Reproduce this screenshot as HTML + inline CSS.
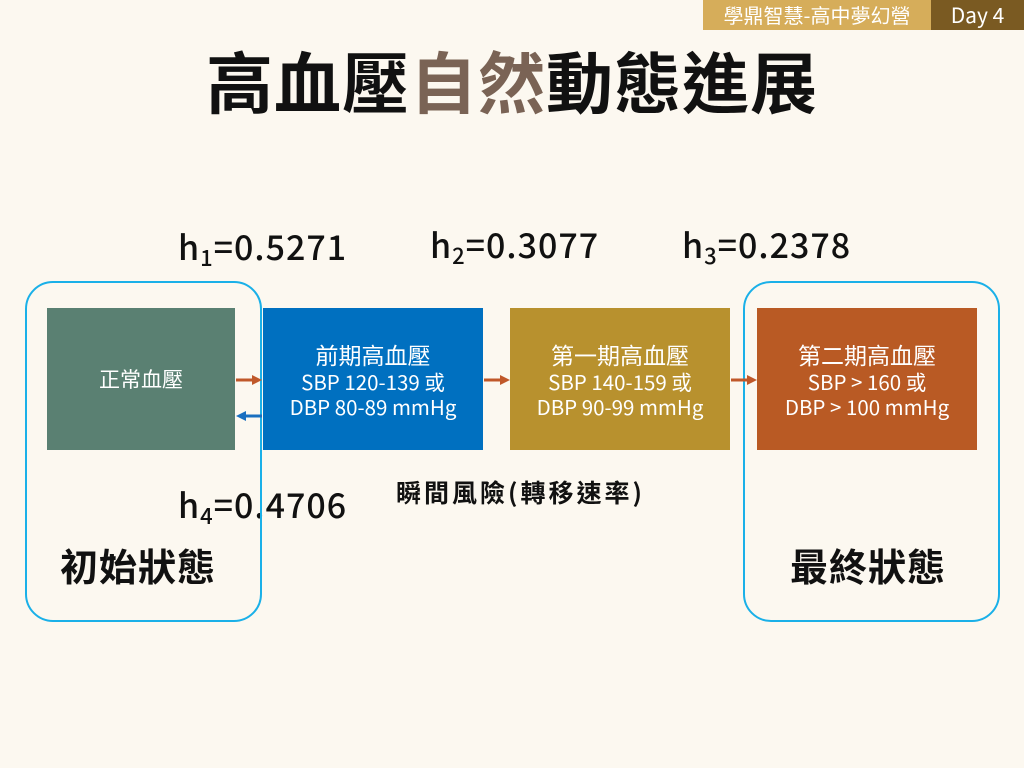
<!DOCTYPE html>
<html><head><meta charset="utf-8"><style>
body{margin:0;width:1024px;height:768px;background:#fcf8f0;position:relative;overflow:hidden;font-family:"Noto Sans CJK TC","Liberation Sans",sans-serif;}
.a{position:absolute;}
.box{position:absolute;color:#fff;text-align:center;display:flex;flex-direction:column;justify-content:center;font-size:20.5px;line-height:25px;}
.box div{font-size:23px;line-height:30px;}
.h{position:absolute;font-size:34px;color:#111;font-weight:500;line-height:40px;letter-spacing:1px;}
.h sub{font-size:22px;vertical-align:-6px;line-height:0;}
</style></head><body>
<div class="a" style="left:703px;top:0;width:228px;height:30px;background:#d6ad5a;color:#fff;font-size:20px;line-height:30px;text-align:center;">學鼎智慧-高中夢幻營</div>
<div class="a" style="left:931px;top:0;width:93px;height:30px;background:#7a5a22;color:#fff;font-size:21px;line-height:30px;text-align:center;">Day 4</div>
<div class="a" style="left:0;width:1024px;top:40px;text-align:center;font-size:67px;font-weight:bold;color:#111;line-height:80px;letter-spacing:1px;">高血壓<span style="color:#7a6355">自然</span>動態進展</div>
<div class="h" style="left:178px;top:226px;">h<sub>1</sub>=0.5271</div>
<div class="h" style="left:430px;top:224px;">h<sub>2</sub>=0.3077</div>
<div class="h" style="left:682px;top:224px;">h<sub>3</sub>=0.2378</div>
<div class="h" style="left:178px;top:484px;">h<sub>4</sub>=0.4706</div>
<div class="a" style="left:25px;top:281px;width:233px;height:337px;border:2px solid #1ab0e8;border-radius:28px;"></div>
<div class="a" style="left:743px;top:281px;width:253px;height:337px;border:2px solid #1ab0e8;border-radius:28px;"></div>
<div class="box" style="left:47px;top:308px;width:188px;height:142px;background:#5a8072;font-size:21px;">正常血壓</div>
<div class="box" style="left:263px;top:308px;width:220px;height:142px;background:#0070c0;"><div>前期高血壓</div>SBP 120-139 或<br>DBP 80-89 mmHg</div>
<div class="box" style="left:510px;top:308px;width:220px;height:142px;background:#b8912e;"><div>第一期高血壓</div>SBP 140-159 或<br>DBP 90-99 mmHg</div>
<div class="box" style="left:757px;top:308px;width:220px;height:142px;background:#b95a24;"><div>第二期高血壓</div>SBP &gt; 160 或<br>DBP &gt; 100 mmHg</div>
<svg class="a" style="left:0;top:0" width="1024" height="768">
<g stroke="#c0582a" stroke-width="3" fill="#c0582a">
<line x1="236" y1="380" x2="254" y2="380"/><polygon points="252,375 262,380 252,385" stroke="none"/>
<line x1="484" y1="380" x2="502" y2="380"/><polygon points="500,375 510,380 500,385" stroke="none"/>
<line x1="731" y1="380" x2="749" y2="380"/><polygon points="747,375 757,380 747,385" stroke="none"/>
</g>
<g stroke="#1a6fc0" stroke-width="3" fill="#1a6fc0">
<line x1="262" y1="416" x2="244" y2="416"/><polygon points="246,411 236,416 246,421" stroke="none"/>
</g>
</svg>
<div class="a" style="left:396px;top:475px;font-size:25px;font-weight:bold;color:#111;line-height:34px;letter-spacing:3px;">瞬間風險(轉移速率)</div>
<div class="a" style="left:60px;top:540px;font-size:38px;font-weight:bold;color:#111;line-height:50px;letter-spacing:1px;">初始狀態</div>
<div class="a" style="left:790px;top:540px;font-size:38px;font-weight:bold;color:#111;line-height:50px;letter-spacing:1px;">最終狀態</div>
</body></html>
